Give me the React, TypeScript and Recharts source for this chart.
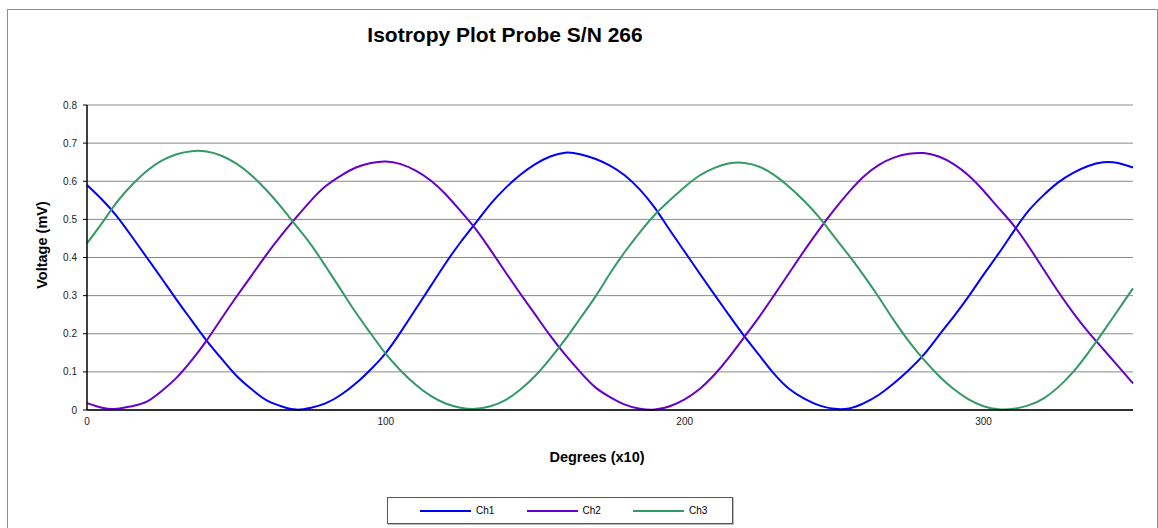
import { LineChart, Line, XAxis, YAxis, CartesianGrid } from 'recharts'

const degrees = [
  0, 5, 10, 15, 20, 25, 30, 35, 40, 45, 50, 55, 60, 65, 70, 75, 80, 85, 90, 95,
  100, 105, 110, 115, 120, 125, 130, 135, 140, 145, 150, 155, 160, 165, 170, 175,
  180, 185, 190, 195, 200, 205, 210, 215, 220, 225, 230, 235, 240, 245, 250, 255,
  260, 265, 270, 275, 280, 285, 290, 295, 300, 305, 310, 315, 320, 325, 330, 335,
  340, 345, 350,
]

const ch1 = [
  0.59, 0.552, 0.508, 0.455, 0.4, 0.345, 0.289, 0.235, 0.182, 0.135, 0.09, 0.055,
  0.026, 0.01, 0.001, 0.006, 0.018, 0.04, 0.07, 0.107, 0.15, 0.205, 0.265, 0.325,
  0.385, 0.44, 0.49, 0.54, 0.582, 0.617, 0.645, 0.665, 0.675, 0.671, 0.659, 0.641,
  0.615, 0.578, 0.53, 0.472, 0.415, 0.358, 0.302, 0.247, 0.193, 0.143, 0.094, 0.055,
  0.03, 0.012, 0.003, 0.004, 0.018, 0.04, 0.07, 0.105, 0.145, 0.195, 0.245, 0.298,
  0.355, 0.41, 0.468, 0.522, 0.563, 0.597, 0.622, 0.64, 0.65, 0.648, 0.636,
]

const ch2 = [
  0.018, 0.006, 0.003, 0.01, 0.022, 0.05, 0.085, 0.13, 0.182, 0.24, 0.297, 0.352,
  0.407, 0.458, 0.505, 0.55, 0.588, 0.615, 0.636, 0.648, 0.652, 0.645, 0.628, 0.602,
  0.566, 0.522, 0.475, 0.42, 0.362, 0.305, 0.25, 0.195, 0.145, 0.1, 0.06, 0.034,
  0.014, 0.003, 0.001, 0.01, 0.028, 0.055, 0.093, 0.14, 0.192, 0.245, 0.302, 0.36,
  0.418, 0.473, 0.525, 0.572, 0.613, 0.643, 0.662, 0.672, 0.674, 0.665, 0.645, 0.615,
  0.575, 0.53, 0.485, 0.43, 0.37, 0.31, 0.255, 0.205, 0.16, 0.115, 0.07,
]

const ch3 = [
  0.437, 0.49, 0.545, 0.59, 0.627, 0.654, 0.671, 0.679, 0.678, 0.667, 0.646, 0.616,
  0.577, 0.532, 0.483, 0.433, 0.375, 0.315, 0.255, 0.2, 0.147, 0.103, 0.066, 0.037,
  0.017, 0.006, 0.003, 0.01, 0.026, 0.054, 0.09, 0.135, 0.185, 0.24, 0.296, 0.358,
  0.415, 0.466, 0.512, 0.55, 0.585, 0.615, 0.635, 0.647, 0.648, 0.638, 0.616, 0.585,
  0.548, 0.505, 0.455, 0.405, 0.352, 0.295, 0.235, 0.18, 0.132, 0.09, 0.055, 0.028,
  0.01, 0.002, 0.003, 0.012, 0.03, 0.06, 0.1, 0.15, 0.205, 0.262, 0.319,
]

const yTicks = [0, 0.1, 0.2, 0.3, 0.4, 0.5, 0.6, 0.7, 0.8]
const xTicks = [0, 100, 200, 300]

const series = [
  { key: 'Ch1', color: '#0000ff' },
  { key: 'Ch2', color: '#6600cc' },
  { key: 'Ch3', color: '#339966' },
]

const data = degrees.map((d, i) => ({ deg: d, Ch1: ch1[i], Ch2: ch2[i], Ch3: ch3[i] }))

const font = '"Liberation Sans", Arial, sans-serif'

export default function App() {
  return (
    <div
      style={{
        position: 'absolute',
        left: 0,
        top: 0,
        width: 1158,
        height: 528,
        overflow: 'hidden',
        background: '#fff',
        fontFamily: font,
      }}
    >
      <div
        style={{
          position: 'absolute',
          left: 7,
          top: 9,
          width: 1149,
          height: 540,
          border: '1px solid #8c8c8c',
        }}
      />
      <div
        style={{
          position: 'absolute',
          left: 305,
          width: 400,
          top: 23,
          textAlign: 'center',
          fontSize: 21,
          fontWeight: 'bold',
          whiteSpace: 'nowrap',
        }}
      >
        Isotropy Plot Probe S/N 266
      </div>
      <div
        style={{
          position: 'absolute',
          left: 42,
          top: 245,
          transform: 'translate(-50%, -50%) rotate(-90deg)',
          whiteSpace: 'nowrap',
          fontSize: 14.5,
          fontWeight: 'bold',
        }}
      >
        Voltage (mV)
      </div>
      <div
        style={{
          position: 'absolute',
          left: 597,
          top: 457,
          transform: 'translate(-50%, -50%)',
          whiteSpace: 'nowrap',
          fontSize: 14.5,
          fontWeight: 'bold',
        }}
      >
        Degrees (x10)
      </div>
      <div style={{ position: 'absolute', left: 0, top: 0 }}>
        <LineChart
          width={1158}
          height={528}
          data={data}
          margin={{ top: 105, right: 25, left: 0, bottom: 88 }}
        >
          <CartesianGrid vertical={false} stroke="#888" strokeWidth={1} />
          <XAxis
            dataKey="deg"
            type="number"
            domain={[0, 350]}
            ticks={xTicks}
            height={30}
            tickLine={false}
            axisLine={{ stroke: '#000', strokeWidth: 1.5 }}
            tick={{ fill: '#222', fontSize: 10, fontFamily: font }}
            tickMargin={2}
          />
          <YAxis
            domain={[0, 0.8]}
            ticks={yTicks}
            width={87}
            tickSize={4}
            tickMargin={6}
            tickLine={{ stroke: '#000' }}
            axisLine={{ stroke: '#000', strokeWidth: 1.5 }}
            tick={{ fill: '#222', fontSize: 10, fontFamily: font }}
            tickFormatter={(v: number) => String(v)}
          />
          {series.map((s) => (
            <Line
              key={s.key}
              type="natural"
              dataKey={s.key}
              stroke={s.color}
              strokeWidth={2}
              dot={false}
              isAnimationActive={false}
            />
          ))}
        </LineChart>
      </div>
      <div
        style={{
          position: 'absolute',
          left: 387,
          top: 497,
          width: 344,
          height: 25,
          border: '1px solid #555',
          boxShadow: '1px 1px 0 #bbb',
        }}
      >
        {series.map((s, i) => (
          <div
            key={s.key}
            style={{
              position: 'absolute',
              left: 32 + i * 106.5,
              top: 0,
              height: 25,
              display: 'flex',
              alignItems: 'center',
              fontSize: 10,
            }}
          >
            <span style={{ display: 'inline-block', width: 51, height: 2, background: s.color, marginRight: 5 }} />
            {s.key}
          </div>
        ))}
      </div>
    </div>
  )
}
